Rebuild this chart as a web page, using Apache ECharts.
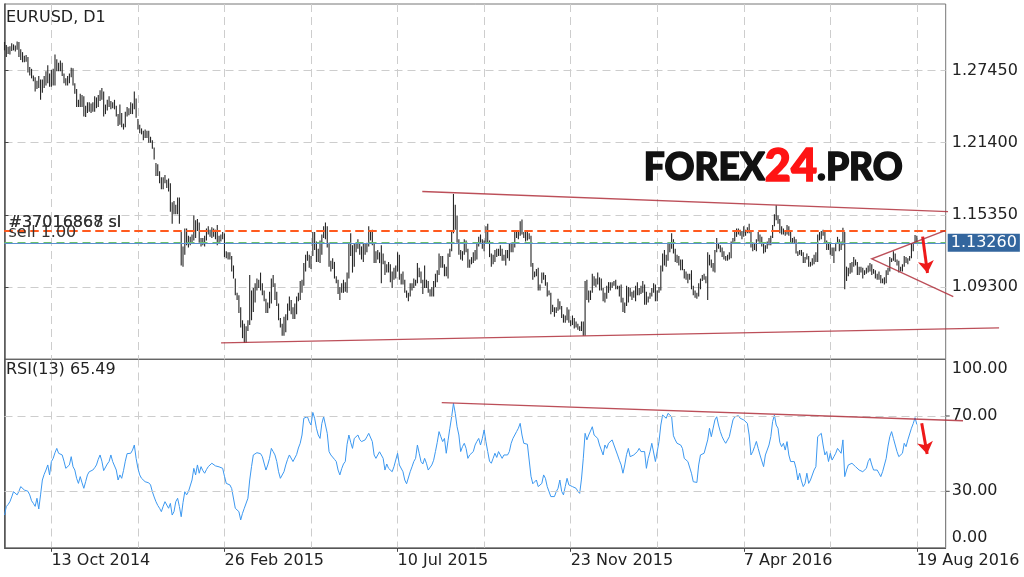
<!DOCTYPE html>
<html><head><meta charset="utf-8">
<script src="https://cdn.jsdelivr.net/npm/echarts@6/dist/echarts.min.js"></script>
<style>html,body{margin:0;padding:0;background:#fff}#c{width:1024px;height:577px}</style>
</head><body><div id="c"></div>
<script>
const tickLabels = ['13 Oct 2014','26 Feb 2015','10 Jul 2015','23 Nov 2015','7 Apr 2016','19 Aug 2016'];
const highs = [
1.2985,1.2960,1.2945,1.2950,1.2975,1.2965,1.2955,1.2990,1.2985,1.2925,
1.2900,1.2870,1.2875,1.2860,1.2775,1.2760,1.2705,1.2690,1.2660,1.2700,
1.2670,1.2670,1.2700,1.2740,1.2790,1.2720,1.2750,1.2760,1.2880,1.2840,
1.2810,1.2830,1.2810,1.2720,1.2680,1.2700,1.2720,1.2770,1.2765,1.2640,
1.2590,1.2500,1.2550,1.2540,1.2530,1.2450,1.2480,1.2480,1.2470,1.2480,
1.2530,1.2520,1.2540,1.2580,1.2600,1.2570,1.2460,1.2500,1.2530,1.2490,
1.2480,1.2500,1.2450,1.2380,1.2460,1.2390,1.2300,1.2400,1.2440,1.2430,
1.2480,1.2470,1.2570,1.2510,1.2340,1.2290,1.2260,1.2240,1.2250,1.2240,
1.2240,1.2190,1.2160,1.2100,1.1970,1.1960,1.1900,1.1850,1.1850,1.1870,
1.1830,1.1840,1.1800,1.1640,1.1650,1.1620,1.1680,1.1680,1.1390,1.1270,
1.1420,1.1420,1.1360,1.1350,1.1370,1.1530,1.1490,1.1500,1.1470,1.1340,
1.1340,1.1360,1.1420,1.1440,1.1410,1.1430,1.1420,1.1410,1.1450,1.1360,
1.1370,1.1390,1.1380,1.1230,1.1220,1.1220,1.1190,1.1110,1.1000,1.0880,
1.0860,1.0760,1.0650,1.0620,1.0600,1.0650,1.1030,1.0900,1.0920,1.0960,
1.1000,1.0990,1.1050,1.0960,1.0900,1.0830,1.0800,1.0890,1.1000,1.1030,
1.0960,1.0890,1.0790,1.0670,1.0620,1.0680,1.0700,1.0790,1.0850,1.0820,
1.0760,1.0790,1.0850,1.0880,1.0980,1.0990,1.1130,1.1200,1.1230,1.1200,
1.1190,1.1390,1.1390,1.1310,1.1250,1.1320,1.1370,1.1440,1.1470,1.1440,
1.1300,1.1150,1.1170,1.1140,1.1020,1.0990,1.0930,1.0960,1.0990,1.0970,
1.1050,1.1290,1.1380,1.1280,1.1290,1.1290,1.1330,1.1300,1.1270,1.1290,
1.1290,1.1300,1.1440,1.1400,1.1410,1.1290,1.1230,1.1240,1.1220,1.1280,
1.1210,1.1150,1.1120,1.1140,1.1120,1.1060,1.1090,1.1110,1.1220,1.1200,
1.1040,1.1060,1.0990,1.0900,1.0880,1.0960,1.0960,1.1000,1.0990,1.1130,
1.1090,1.1060,1.0990,1.1110,1.0990,1.0980,1.0910,1.0930,1.0980,1.1040,
1.1070,1.1210,1.1190,1.1190,1.1120,1.1100,1.1210,1.1250,1.1400,1.1710,
1.1620,1.1530,1.1330,1.1240,1.1230,1.1330,1.1320,1.1250,1.1160,1.1180,
1.1220,1.1240,1.1290,1.1350,1.1370,1.1330,1.1320,1.1440,1.1460,1.1320,
1.1210,1.1200,1.1240,1.1250,1.1250,1.1280,1.1250,1.1200,1.1240,1.1240,
1.1290,1.1300,1.1290,1.1390,1.1390,1.1390,1.1480,1.1495,1.1390,1.1390,
1.1390,1.1380,1.1360,1.1130,1.1060,1.1080,1.1090,1.0950,1.1050,1.1050,
1.1030,1.0970,1.0900,1.0880,1.0780,1.0760,1.0760,1.0830,1.0810,1.0770,
1.0700,1.0690,1.0760,1.0740,1.0650,1.0690,1.0670,1.0640,1.0620,1.0600,
1.0640,1.0640,1.0980,1.0990,1.0900,1.0900,1.1040,1.1020,1.1000,1.1050,
1.1010,1.1000,1.0920,1.0880,1.0940,1.0970,1.0970,1.0970,1.0980,1.0990,
1.0940,1.0940,1.0950,1.0840,1.0800,1.0940,1.0930,1.0920,1.0890,1.0900,
1.0940,1.0970,1.0920,1.0940,1.0980,1.0950,1.0890,1.0850,1.0880,1.0920,
1.0960,1.0950,1.0900,1.0930,1.1110,1.1210,1.1240,1.1200,1.1300,1.1290,
1.1380,1.1330,1.1250,1.1200,1.1190,1.1160,1.1160,1.1080,1.1060,1.1040,
1.1040,1.1070,1.0940,1.0900,1.0880,1.0960,1.1000,1.1030,1.1040,1.1020,
1.1220,1.1200,1.1160,1.1130,1.1240,1.1340,1.1300,1.1280,1.1260,1.1230,
1.1190,1.1200,1.1220,1.1310,1.1340,1.1390,1.1420,1.1420,1.1410,1.1400,
1.1440,1.1410,1.1430,1.1460,1.1400,1.1300,1.1300,1.1330,1.1390,1.1370,
1.1350,1.1300,1.1280,1.1310,1.1340,1.1360,1.1450,1.1540,1.1616,1.1530,
1.1500,1.1440,1.1420,1.1400,1.1450,1.1440,1.1390,1.1340,1.1350,1.1330,
1.1230,1.1240,1.1240,1.1220,1.1180,1.1210,1.1190,1.1140,1.1170,1.1200,
1.1220,1.1370,1.1390,1.1400,1.1410,1.1390,1.1320,1.1300,1.1300,1.1260,
1.1260,1.1300,1.1350,1.1330,1.1310,1.1427,1.1390,1.1100,1.1090,1.1130,
1.1140,1.1180,1.1160,1.1140,1.1100,1.1100,1.1090,1.1070,1.1090,1.1110,
1.1130,1.1120,1.1080,1.1070,1.1040,1.1060,1.1030,1.1000,1.1010,1.1070,
1.1090,1.1180,1.1170,1.1230,1.1210,1.1160,1.1150,1.1100,1.1120,1.1190,
1.1180,1.1170,1.1190,1.1290,1.1300,1.1366,1.1360
];
const lows = [
1.2915,1.2860,1.2885,1.2880,1.2910,1.2915,1.2905,1.2920,1.2860,1.2835,
1.2815,1.2815,1.2820,1.2730,1.2705,1.2680,1.2655,1.2570,1.2590,1.2600,
1.2500,1.2560,1.2600,1.2620,1.2640,1.2610,1.2610,1.2620,1.2620,1.2740,
1.2740,1.2740,1.2700,1.2640,1.2620,1.2620,1.2640,1.2690,1.2620,1.2550,
1.2440,1.2440,1.2440,1.2440,1.2360,1.2355,1.2390,1.2400,1.2390,1.2400,
1.2400,1.2430,1.2440,1.2490,1.2500,1.2360,1.2380,1.2410,1.2440,1.2420,
1.2430,1.2420,1.2360,1.2280,1.2290,1.2270,1.2250,1.2270,1.2360,1.2370,
1.2380,1.2380,1.2420,1.2350,1.2250,1.2220,1.2210,1.2160,1.2180,1.2180,
1.2140,1.2140,1.2090,1.2000,1.1860,1.1860,1.1800,1.1750,1.1750,1.1800,
1.1760,1.1730,1.1560,1.1460,1.1540,1.1540,1.1540,1.1460,1.1110,1.1100,
1.1200,1.1280,1.1260,1.1280,1.1300,1.1320,1.1340,1.1400,1.1300,1.1270,
1.1280,1.1270,1.1320,1.1370,1.1350,1.1340,1.1350,1.1330,1.1280,1.1300,
1.1310,1.1330,1.1180,1.1170,1.1160,1.1160,1.1060,1.1000,1.0860,1.0820,
1.0710,1.0590,1.0500,1.0460,1.0460,1.0560,1.0610,1.0650,1.0720,1.0800,
1.0900,1.0920,1.0900,1.0860,1.0810,1.0710,1.0710,1.0750,1.0790,1.0930,
1.0820,1.0770,1.0650,1.0590,1.0520,1.0520,1.0550,1.0650,1.0730,1.0700,
1.0660,1.0660,1.0700,1.0810,1.0820,1.0880,1.0940,1.1060,1.1150,1.1090,
1.1080,1.1190,1.1240,1.1140,1.1140,1.1130,1.1200,1.1340,1.1330,1.1260,
1.1100,1.1060,1.1080,1.1000,1.0960,1.0870,1.0820,1.0880,1.0880,1.0890,
1.0880,1.1000,1.1190,1.1050,1.1100,1.1220,1.1250,1.1200,1.1160,1.1140,
1.1200,1.1220,1.1270,1.1320,1.1280,1.1130,1.1130,1.1160,1.1130,1.0960,
1.1120,1.1030,1.1050,1.1050,1.0970,1.0920,1.0990,1.1000,1.1060,1.0990,
1.0950,1.0950,1.0880,1.0840,1.0810,1.0850,1.0900,1.0920,1.0940,1.0960,
1.1010,1.0960,1.0870,1.0920,1.0920,1.0880,1.0850,1.0850,1.0850,1.0930,
1.0970,1.1030,1.1090,1.1090,1.1020,1.1020,1.1000,1.1180,1.1230,1.1380,
1.1410,1.1300,1.1200,1.1160,1.1150,1.1200,1.1220,1.1090,1.1090,1.1120,
1.1130,1.1150,1.1160,1.1270,1.1300,1.1250,1.1230,1.1300,1.1300,1.1180,
1.1100,1.1120,1.1140,1.1180,1.1190,1.1190,1.1150,1.1150,1.1110,1.1170,
1.1150,1.1220,1.1220,1.1260,1.1340,1.1330,1.1360,1.1370,1.1340,1.1310,
1.1320,1.1330,1.1100,1.0990,1.1010,1.1020,1.0900,1.0900,1.0960,1.0990,
1.0940,1.0850,1.0860,1.0700,1.0720,1.0680,1.0710,1.0730,1.0740,1.0670,
1.0630,1.0630,1.0650,1.0630,1.0600,1.0610,1.0580,1.0590,1.0570,1.0560,
1.0560,1.0520,1.0520,1.0820,1.0800,1.0820,1.0880,1.0940,1.0930,1.0950,
1.0900,1.0900,1.0810,1.0800,1.0830,1.0880,1.0900,1.0920,1.0940,1.0910,
1.0910,1.0850,1.0800,1.0720,1.0710,1.0770,1.0800,1.0850,1.0820,1.0840,
1.0810,1.0860,1.0860,1.0870,1.0880,1.0780,1.0780,1.0800,1.0830,1.0850,
1.0880,1.0810,1.0810,1.0880,1.0900,1.1060,1.1110,1.1100,1.1150,1.1220,
1.1250,1.1210,1.1140,1.1130,1.1110,1.1070,1.1070,1.1000,1.0990,1.0960,
1.0990,1.0910,1.0860,1.0840,1.0830,1.0850,1.0910,1.0980,1.0990,1.0960,
1.0820,1.1110,1.1090,1.1060,1.1050,1.1220,1.1250,1.1220,1.1180,1.1160,
1.1150,1.1150,1.1160,1.1170,1.1290,1.1310,1.1350,1.1370,1.1360,1.1330,
1.1350,1.1360,1.1380,1.1380,1.1260,1.1230,1.1240,1.1230,1.1310,1.1290,
1.1270,1.1210,1.1220,1.1250,1.1280,1.1280,1.1340,1.1440,1.1490,1.1460,
1.1380,1.1370,1.1370,1.1360,1.1370,1.1360,1.1300,1.1290,1.1290,1.1210,
1.1190,1.1200,1.1190,1.1130,1.1130,1.1160,1.1100,1.1100,1.1110,1.1120,
1.1140,1.1140,1.1320,1.1330,1.1360,1.1300,1.1240,1.1240,1.1200,1.1190,
1.1130,1.1230,1.1300,1.1230,1.1240,1.1280,1.0910,1.0980,1.1020,1.1040,
1.1050,1.1100,1.1110,1.1030,1.1030,1.1050,1.1000,1.1030,1.1040,1.1050,
1.1060,1.1030,1.1040,1.1000,1.0990,1.0990,1.0960,1.0960,1.0950,1.0960,
1.1030,1.1060,1.1140,1.1150,1.1140,1.1110,1.1050,1.1060,1.1060,1.1100,
1.1130,1.1120,1.1150,1.1170,1.1230,1.1290,1.1300
];
const rsi = [
17.4,21.9,23,24.5,27,29.8,29,28.1,30,32.5,
31.5,30.7,31.6,30,28.1,25,23.6,22,26.3,20.6,
28.1,36,39,41.3,44,38.7,45.8,47.5,50.5,52.8,
50.2,51.1,49.3,46,42.2,43,44,48.4,43.1,41.3,
36.9,34.2,37.8,34.5,31.6,35.1,38.7,40.4,39.6,41.3,
42.5,44,47,49.3,46,41,42,44.5,45.8,49.3,
45.8,44.9,41.3,36,38.7,36.9,41,46,50,49.3,
50.2,51.9,54.6,47.5,42.2,38.7,36.9,36,35.1,35.1,
34.5,33.4,29.8,27,24.5,22.5,21,19.2,22,24.5,
24.5,21,23.6,17.4,19.2,24.5,26.3,21.9,16.5,24,
29.8,28.1,29.8,30.7,36,42.2,38.7,44,39.6,43.1,
41,39.6,41.5,43.1,44,44.9,44,43.5,43.1,43,
43.1,42.2,38,34.2,33.8,33.4,31.5,30.7,21,20,
19.2,14.8,18.3,21,20.1,26.3,36,43.1,49.3,50.2,
50.5,51.1,50,48.4,47.5,41.3,44,47.5,52.8,51.1,
49.3,45.8,40.4,36.9,36,40.4,44,47,49.3,50.2,
45.8,45.8,49.5,53,55.5,59.9,68.8,69,69.6,67,
65.2,71.9,68.8,63.5,59.9,58.1,66,69.6,68.8,60.8,
51.1,49.3,48.4,47,45.8,41.3,38.7,42,44.5,45.8,
55,59.9,56,52.8,58.1,59,59.9,57.5,56.4,56,
57.3,59,60.8,59.9,56.4,49.3,47.5,49.3,51,51.9,
47.5,41.3,44.5,42.2,41.5,40.4,43.1,42.2,50.2,44,
43.1,40.4,36,34,33.4,40.4,43,45.8,47.5,54.6,
50.2,45.8,44.5,47.5,44.9,41.3,40.5,44,46.5,51.1,
56,61.7,59,56.4,58.1,50.2,57,63.5,69.6,76.7,
71.4,64.3,59.9,51.1,53.7,55.5,52.8,47.5,49.3,48.4,
51.1,54.6,56.5,58.1,54.6,58,62.6,56.4,51.1,46,
44.9,47.5,50.2,48,51.1,50.2,47.5,49.3,48.4,49.3,
51.1,55.5,58.1,59.9,61.7,63.5,66.1,59.9,55.5,54.6,
55,54.6,38,34,33.4,36,32.5,33,34.2,38.7,
36.9,32.5,31.6,27.2,26.5,27.2,29.8,31.6,36,30,
28.1,32.5,36.9,33.4,33,32.5,32,31.6,30,28.9,
36.5,47.5,60.8,57.3,59.9,62,64.3,59.9,60.8,58.1,
54.6,53.7,49.3,54.6,52.8,55.5,56.5,57.3,54.6,53.7,
49.3,46.5,44,39.6,44,49.5,52.8,48.4,49.3,49.3,
50.2,51.1,52.8,51.1,51.9,51.1,42.2,47.5,51,55.5,
56.4,45.8,51.1,56.4,65.2,70.5,69.6,68.8,71.4,72.3,
69.6,59.5,57.3,55.5,55.5,54.6,52.8,47.5,46.5,45.8,
44.9,39.6,35.1,34.5,34.7,44,49.3,50,50.2,50.2,
57.3,63.5,59,58,67.9,69.6,65.2,61.7,59,57,
55.5,54.6,59,63.5,67.9,69.5,70.2,70.2,68.8,69.6,
67.9,68.8,66.1,59.9,49.3,51.1,53.7,56.5,52.8,49.3,
48.4,43.1,49.3,51.9,54.6,59,67,70.5,65.2,63.5,
56,53.7,55.5,51.9,56.4,49.3,45.8,44.9,45.8,42.2,
36,39.6,35.5,32.5,34.2,39.6,34.2,36,36.9,41.3,
43.1,59,59,60.8,54.6,49.3,51.1,45.8,50.2,46.6,
48.4,50.2,52.8,53.7,50.2,57.3,37.8,41.3,44,44,
44.9,45.8,43.1,42.2,41.3,42.2,40.4,41.3,42.2,45.8,
47.5,44,41.3,40.4,41.3,39.6,37.8,40.4,41.3,47.5,
54,59,61.7,58.1,54.6,51.1,48.4,48.4,50.2,55.5,
53.7,57.3,58.1,63.5,66,69.1,65.49
];
const rsiLevels = [30, 70];
// order / price levels
const slLevel = 1.1394;
const openLevel = 1.1308;
const bidLevel = 1.1326;
// drawn trend lines: [bar index, value]
const upperChannel = [[231.7, 1.1730], [523.3, 1.1562]];
const lowerChannel = [[120.1, 1.0460], [551.6, 1.0586]];
const wedge = [[521.6, 1.1402], [481.0, 1.1165], [526.2, 1.0849]];
const priceArrow = [[509.2, 1.1352], [511.9, 1.1047]];
const rsiTrend = [[242.5, 77.1], [531.6, 67.5]];
const rsiArrow = [[508.7, 66.1], [511.7, 49.8]];

const months = ['Jan','Feb','Mar','Apr','May','Jun','Jul','Aug','Sep','Oct','Nov','Dec'];
const cats = [];
let d = new Date(Date.UTC(2014, 8, 5));
while (cats.length < 523) {
  const wd = d.getUTCDay(), m = d.getUTCMonth(), dd = d.getUTCDate();
  if (wd !== 0 && wd !== 6 && !(m === 11 && dd === 25) && !(m === 0 && dd === 1)) {
    cats.push(dd + ' ' + months[m] + ' ' + d.getUTCFullYear());
  }
  d = new Date(d.getTime() + 86400000);
}
const labelIdx = tickLabels.map(t => cats.indexOf(t));
const gridIdx = new Set(labelIdx);
for (let k = 0; k < labelIdx.length - 1; k++) gridIdx.add(Math.round((labelIdx[k] + labelIdx[k + 1]) / 2));
const labelSet = new Set(labelIdx);

const FONT = 'DejaVu Sans';
const dashed = { color: '#cdcdcd', type: [8, 5], width: 1 };
const TREND = '#b0303c';
const hidden = { opacity: 0, width: 0 };
const barData = highs.map((h, i) => [i, lows[i], h]);

const chart = echarts.init(document.getElementById('c'), null, { renderer: 'canvas' });
chart.setOption({
  animation: false,
  backgroundColor: '#ffffff',
  textStyle: { fontFamily: FONT },
  title: [
    { text: 'EURUSD, D1', left: 6, top: 9.5, padding: 0,
      textStyle: { fontSize: 16, fontWeight: 'normal', color: '#222', fontFamily: FONT } },
    { text: 'RSI(13) ' + rsi[rsi.length - 1].toFixed(2), left: 6, top: 361.5, padding: 0,
      textStyle: { fontSize: 16, fontWeight: 'normal', color: '#222', fontFamily: FONT } }
  ],
  grid: [
    { left: 4.5, right: 78.3, top: 4, height: 355, show: true, borderColor: '#777', borderWidth: 1 },
    { left: 4.5, right: 78.3, top: 359.5, height: 188.3, show: true, borderColor: '#666', borderWidth: 1 }
  ],
  xAxis: [
    { type: 'category', gridIndex: 0, data: cats, boundaryGap: false,
      axisLine: { show: false }, axisTick: { show: false }, axisLabel: { show: false },
      splitLine: { show: true, interval: (i) => gridIdx.has(i), lineStyle: dashed } },
    { type: 'category', gridIndex: 1, data: cats, boundaryGap: false,
      axisLine: { show: true, lineStyle: { color: '#555', width: 1 } },
      axisTick: { show: true, interval: (i) => labelSet.has(i), length: 4, lineStyle: { color: '#444' } },
      axisLabel: { show: true, interval: (i) => labelSet.has(i), align: 'left', margin: 5,
        color: '#222', fontSize: 16, fontFamily: FONT },
      splitLine: { show: true, interval: (i) => gridIdx.has(i), lineStyle: dashed } },
    { type: 'value', gridIndex: 0, min: 0, max: 522, show: false, position: 'top' },
    { type: 'value', gridIndex: 1, min: 0, max: 522, show: false, position: 'top' }
  ],
  yAxis: [
    { type: 'value', gridIndex: 0, position: 'right', min: 1.0325, max: 1.3304, interval: 0.0605,
      axisLine: { show: true, lineStyle: { color: '#555', width: 1.5 } },
      axisTick: { show: true, length: 4, lineStyle: { color: '#444' } },
      axisLabel: { showMinLabel: false, showMaxLabel: false, margin: 6, color: '#222', fontSize: 16,
        fontFamily: FONT, formatter: v => v.toFixed(5) },
      splitLine: { show: true, showMinLine: false, showMaxLine: false, lineStyle: dashed } },
    { type: 'value', gridIndex: 1, position: 'right', min: 0, max: 100, interval: 10,
      axisLine: { show: true, lineStyle: { color: '#555', width: 1.5 } },
      axisTick: { show: false },
      axisLabel: { margin: 6, color: '#222', fontSize: 16, fontFamily: FONT,
        formatter: v => v === 100 ? '{t|100.00}' : v === 0 ? '{b|0.00}' : rsiLevels.includes(v) ? v.toFixed(2) : '',
        rich: { t: { padding: [19, 0, 0, 0], fontSize: 16, color: '#222', fontFamily: FONT },
                b: { padding: [0, 0, 19, 0], fontSize: 16, color: '#222', fontFamily: FONT } } },
      splitLine: { show: false } }
  ],
  series: [
    { type: 'custom', name: 'EURUSD', xAxisIndex: 0, yAxisIndex: 0, data: barData,
      encode: { x: 0, y: [1, 2] }, silent: true,
      renderItem: (params, api) => {
        const a = api.coord([api.value(0), api.value(1)]);
        const b = api.coord([api.value(0), api.value(2)]);
        return { type: 'line', shape: { x1: a[0], y1: a[1], x2: b[0], y2: b[1] },
          style: { stroke: '#262626', lineWidth: 1.1 } };
      },
      markLine: {
        silent: true, symbol: 'none', animation: false,
        data: [
          { yAxis: slLevel, lineStyle: { color: '#ff5a1e', type: [8, 5], width: 2 },
            label: { show: true, position: 'insideStartTop', distance: [4, 0], formatter: '#37016867 sl',
              color: '#333', fontSize: 16, fontFamily: FONT } },
          { yAxis: slLevel, lineStyle: { color: '#ff5a1e', type: [8, 5], width: 2 },
            label: { show: true, position: 'insideStartTop', distance: [4, 0], formatter: '#37016868 sl',
              color: '#333', fontSize: 16, fontFamily: FONT } },
          { yAxis: openLevel, lineStyle: { color: '#6cbf6c', type: [8, 5], width: 2 },
            label: { show: true, position: 'insideStartTop', distance: [4, 2], formatter: 'sell 1.00',
              color: '#333', fontSize: 16, fontFamily: FONT } },
          { yAxis: bidLevel, lineStyle: { color: '#5a8fd0', type: 'solid', width: 1 },
            label: { show: true, position: 'end', distance: 2, formatter: bidLevel.toFixed(5),
              backgroundColor: '#33669e', color: '#fff', padding: [1, 3, 1, 3], fontSize: 16, fontFamily: FONT } }
        ]
      }
    },
    { type: 'line', xAxisIndex: 2, yAxisIndex: 0, data: upperChannel, symbol: 'none', silent: true,
      lineStyle: hidden,
      markLine: { silent: true, symbol: ['none', 'arrow'], symbolSize: 12, animation: false,
        lineStyle: { color: '#ee1a1a', width: 3, type: 'solid' }, label: { show: false },
        data: [[{ coord: priceArrow[0] }, { coord: priceArrow[1] }]] } },
    { type: 'line', xAxisIndex: 1, yAxisIndex: 1, data: rsi, symbol: 'none', silent: true,
      lineStyle: { color: '#3c98f0', width: 1 },
      markLine: { silent: true, symbol: 'none', animation: false, label: { show: false },
        lineStyle: dashed, data: rsiLevels.map(v => ({ yAxis: v })) } },
    { type: 'line', xAxisIndex: 3, yAxisIndex: 1, data: rsiTrend, symbol: 'none', silent: true,
      lineStyle: hidden,
      markLine: { silent: true, symbol: ['none', 'arrow'], symbolSize: 12, animation: false,
        lineStyle: { color: '#ee1a1a', width: 3, type: 'solid' }, label: { show: false },
        data: [[{ coord: rsiArrow[0] }, { coord: rsiArrow[1] }]] } }
  ]
});

// trend lines that run past the plot edge: map data points through the chart's own scales
const toPx = (xi, yi, pts) => pts.map(p => chart.convertToPixel({ xAxisIndex: xi, yAxisIndex: yi }, p));
const trendLine = (id, pts) => ({
  type: 'polyline', id, silent: true, z: 50,
  shape: { points: pts }, style: { stroke: TREND, lineWidth: 1.4, opacity: 0.85, fill: null }
});
// small outward ticks on the RSI scale at its level lines
const levelTicks = rsiLevels.map((v, k) => {
  const p = chart.convertToPixel({ xAxisIndex: 3, yAxisIndex: 1 }, [522, v]);
  return { type: 'line', id: 'lvtick' + k, silent: true, z: 50,
    shape: { x1: p[0], y1: p[1], x2: p[0] + 4, y2: p[1] }, style: { stroke: '#444', lineWidth: 1 } };
});
chart.setOption({
  graphic: [
    trendLine('upper', toPx(2, 0, upperChannel)),
    trendLine('lower', toPx(2, 0, lowerChannel)),
    trendLine('wedge', toPx(2, 0, wedge)),
    trendLine('rsiTrend', toPx(3, 1, rsiTrend)),
    ...levelTicks,
    {
      type: 'text', id: 'logo', left: 643, top: 143, z: 100, silent: true,
      style: {
        text: '{a|FOREX}{b|24}{a|.PRO}',
        rich: {
          a: { fontFamily: 'Lato', fontWeight: 900, fontSize: 37, fill: '#111', stroke: '#111', lineWidth: 1.5 },
          b: { fontFamily: 'Lato', fontWeight: 900, fontSize: 45, fill: '#ff1414', stroke: '#ff1414', lineWidth: 1.5,
               padding: [0, 0, 4, 0] }
        }
      }
    }
  ]
});
</script>
</body></html>
